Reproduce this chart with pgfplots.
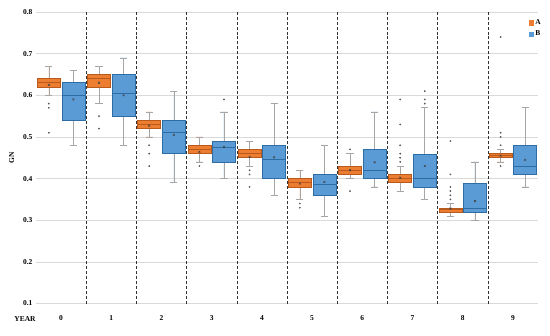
\documentclass[border=0pt]{standalone}
\usepackage{fontspec}
\setmainfont{Liberation Serif}
\usepackage{pgfplots}
\pgfplotsset{compat=1.18}
\usepgfplotslibrary{statistics}
\definecolor{colA}{HTML}{ED7D31}
\definecolor{borA}{HTML}{B85A1B}
\definecolor{colB}{HTML}{5B9BD5}
\definecolor{borB}{HTML}{2E6DA4}
\definecolor{whisk}{HTML}{A6A6A6}
\definecolor{outl}{HTML}{595959}
\pgfplotsset{
  bA/.style={boxplot/draw direction=y, boxplot/box extend=0.46, boxplot/whisker extend=0.14,
    draw=borA, fill=colA, line width=0.6pt, mark=*, mark size=0.55pt,
    mark options={draw=outl, fill=outl, solid},
    boxplot/every whisker/.style={draw=whisk, line width=0.6pt},
    boxplot/every median/.style={draw=borA, line width=0.9pt}},
  bB/.style={boxplot/draw direction=y, boxplot/box extend=0.46, boxplot/whisker extend=0.14,
    draw=borB, fill=colB, line width=0.6pt, mark=*, mark size=0.55pt,
    mark options={draw=outl, fill=outl, solid},
    boxplot/every whisker/.style={draw=whisk, line width=0.6pt},
    boxplot/every median/.style={draw=borB, line width=0.9pt}},
}
\newcommand{\bx}[7]{%
  \addplot[#1, boxplot prepared={draw position=#2, lower whisker=#3, lower quartile=#4,
    median=#5, upper quartile=#6, upper whisker=#7}, forget plot]}
\begin{document}
\begin{tikzpicture}
\useasboundingbox (-36bp,-32.5bp) rectangle (514bp,303.5bp);
\begin{axis}[
  at={(0,0)}, anchor=south west,
  scale only axis, width=502bp, height=291.5bp,
  xmin=-0.5, xmax=9.5, ymin=0.1, ymax=0.8,
  xtick={0,...,9}, ytick={0.1,0.2,...,0.8},
  /pgf/number format/assume math mode=true,
  yticklabel style={/pgf/number format/.cd, fixed, fixed zerofill, precision=1},
  ticklabel style={font=\bfseries\fontsize{7.5}{9}\selectfont},
  xticklabel style={yshift=-9bp},
  axis line style={draw=none}, major tick length=0pt,
  ymajorgrids, major grid style={draw=black!15, line width=0.7pt},
  extra x ticks={0.5,1.5,...,8.5}, extra x tick labels={},
  extra x tick style={grid=major, major grid style={draw=black!80, densely dashed, line width=0.6pt}},
  ylabel={\bfseries GN}, ylabel style={font=\fontsize{7.5}{9}\selectfont, yshift=2bp},
  legend style={at={(1.012,0.985)}, anchor=north east, draw=none, fill=none,
    font=\bfseries\fontsize{7.5}{9}\selectfont, row sep=1pt, inner sep=1pt},
  legend cell align=left,
  clip=false,
]
\addlegendimage{only marks, mark=square*, mark size=2.3pt, mark options={draw=colA, fill=colA}}
\addlegendentry{A}
\addlegendimage{only marks, mark=square*, mark size=2.3pt, mark options={draw=colB, fill=colB}}
\addlegendentry{B}
% year 0
\bx{bA}{-0.245}{0.60}{0.62}{0.63}{0.64}{0.67} table[row sep=\\, y index=0] {0.58\\0.57\\0.51\\};
\bx{bB}{0.245}{0.48}{0.54}{0.60}{0.63}{0.66} coordinates {};
% year 1
\bx{bA}{0.755}{0.58}{0.62}{0.64}{0.65}{0.67} table[row sep=\\, y index=0] {0.55\\0.52\\};
\bx{bB}{1.245}{0.48}{0.55}{0.605}{0.65}{0.69} coordinates {};
% year 2
\bx{bA}{1.755}{0.50}{0.52}{0.53}{0.54}{0.56} table[row sep=\\, y index=0] {0.48\\0.46\\0.43\\};
\bx{bB}{2.245}{0.39}{0.46}{0.51}{0.54}{0.61} coordinates {};
% year 3
\bx{bA}{2.755}{0.44}{0.46}{0.47}{0.48}{0.50} table[row sep=\\, y index=0] {0.43\\};
\bx{bB}{3.245}{0.40}{0.44}{0.475}{0.49}{0.56} table[row sep=\\, y index=0] {0.59\\};
% year 4
\bx{bA}{3.755}{0.43}{0.45}{0.46}{0.47}{0.49} table[row sep=\\, y index=0] {0.42\\0.41\\0.38\\};
\bx{bB}{4.245}{0.36}{0.40}{0.446}{0.48}{0.58} coordinates {};
% year 5
\bx{bA}{4.755}{0.35}{0.38}{0.39}{0.40}{0.42} table[row sep=\\, y index=0] {0.34\\0.33\\};
\bx{bB}{5.245}{0.31}{0.36}{0.386}{0.41}{0.48} coordinates {};
% year 6
\bx{bA}{5.755}{0.40}{0.41}{0.42}{0.43}{0.46} table[row sep=\\, y index=0] {0.47\\0.37\\};
\bx{bB}{6.245}{0.38}{0.40}{0.42}{0.47}{0.56} coordinates {};
% year 7
\bx{bA}{6.755}{0.37}{0.39}{0.40}{0.41}{0.43} table[row sep=\\, y index=0] {0.59\\0.53\\0.48\\0.46\\0.45\\0.44\\};
\bx{bB}{7.245}{0.35}{0.38}{0.40}{0.459}{0.57} table[row sep=\\, y index=0] {0.61\\0.59\\0.58\\};
% year 8
\bx{bA}{7.755}{0.31}{0.32}{0.325}{0.329}{0.34} table[row sep=\\, y index=0] {0.49\\0.41\\0.38\\0.37\\0.36\\0.35\\};
\bx{bB}{8.245}{0.30}{0.32}{0.329}{0.388}{0.44} coordinates {};
% year 9
\bx{bA}{8.755}{0.44}{0.45}{0.455}{0.46}{0.47} table[row sep=\\, y index=0] {0.74\\0.51\\0.50\\0.48\\0.43\\};
\bx{bB}{9.245}{0.38}{0.41}{0.43}{0.48}{0.57} coordinates {};
% means
\addplot[only marks, mark=x, mark size=1.3pt, mark options={draw=black!75, line width=0.5pt}, forget plot]
  coordinates {(-0.245,0.625) (0.755,0.63) (1.755,0.527) (2.755,0.464) (3.755,0.452)
   (4.755,0.388) (5.755,0.42) (6.755,0.402) (7.755,0.328) (8.755,0.455)};
\addplot[only marks, mark=x, mark size=1.3pt, mark options={draw=black!75, line width=0.5pt}, forget plot]
  coordinates {(0.245,0.59) (1.245,0.60) (2.245,0.505) (3.245,0.476) (4.245,0.451)
   (5.245,0.392) (6.245,0.439) (7.245,0.43) (8.245,0.346) (9.245,0.445)};
\end{axis}
\node[font=\bfseries\fontsize{7.5}{9}\selectfont] at (-11bp,-15.5bp) {YEAR};
\end{tikzpicture}
\end{document}
